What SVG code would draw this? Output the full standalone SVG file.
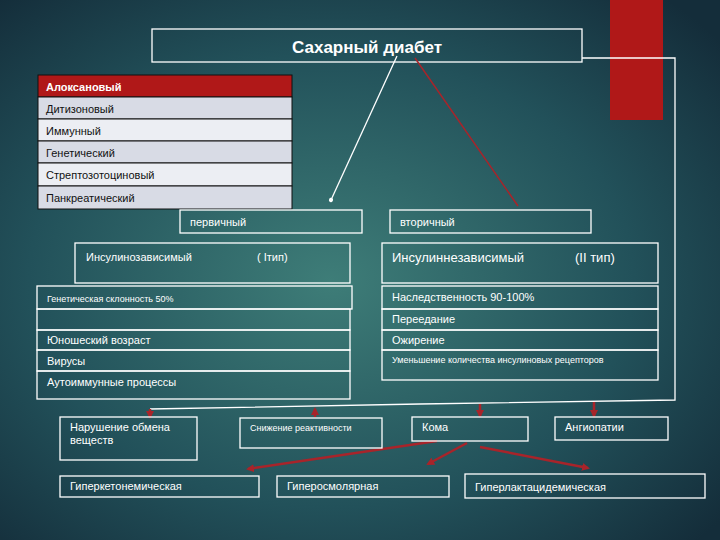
<svg xmlns="http://www.w3.org/2000/svg" width="720" height="540" viewBox="0 0 720 540">
<defs>
<radialGradient id="bg" cx="0.46" cy="0.52" r="0.7">
<stop offset="0" stop-color="#3e7d78"/><stop offset="0.6" stop-color="#22515a"/><stop offset="1" stop-color="#142d3a"/>
</radialGradient>
<marker id="wa" markerWidth="6" markerHeight="6" refX="3" refY="3" orient="auto"><circle cx="3" cy="3" r="1.6" fill="#fff"/></marker>
<marker id="ra" markerWidth="8" markerHeight="8" refX="6" refY="4" orient="auto" markerUnits="userSpaceOnUse"><path d="M0,0 L8,4 L0,8 z" fill="#a8242a"/></marker>
<style>
.b{fill:none;stroke:#fff;stroke-width:1.3}
.t{font-family:"Liberation Sans",Arial,sans-serif;font-size:11px;fill:#fff;stroke:none}
.s{font-size:9px}
.d{font-family:"Liberation Sans",Arial,sans-serif;font-size:11px;fill:#111;stroke:none}
.r{stroke:#a8242a;stroke-width:2.5;fill:none}
</style>
</defs>
<rect width="720" height="540" fill="url(#bg)"/>
<rect x="610" y="0" width="53" height="120" fill="#b01818"/>
<g id="title"><rect class="b" x="152" y="29" width="430" height="33"/><text class="t" x="367" y="53" font-weight="bold" text-anchor="middle" style="font-size:17px">Сахарный диабет</text></g>
<g id="table" stroke="#111" stroke-width="1">
<rect x="38" y="75" width="254" height="22" fill="#b01818"/><text class="t" x="46" y="91" font-weight="bold">Алоксановый</text>
<rect x="38" y="97" width="254" height="22" fill="#d8dbe5"/><text class="d" x="46" y="113">Дитизоновый</text>
<rect x="38" y="119" width="254" height="22" fill="#eceef3"/><text class="d" x="46" y="135">Иммунный</text>
<rect x="38" y="141" width="254" height="22" fill="#d8dbe5"/><text class="d" x="46" y="157">Генетический</text>
<rect x="38" y="163" width="254" height="23" fill="#eceef3"/><text class="d" x="46" y="179">Стрептозотоциновый</text>
<rect x="38" y="186" width="254" height="23" fill="#d8dbe5"/><text class="d" x="46" y="202">Панкреатический</text>
</g>
<g id="connectors">
<line x1="397" y1="56" x2="331" y2="200" stroke="#fff" stroke-width="1.3" marker-end="url(#wa)"/>
<line x1="415" y1="58" x2="518" y2="206" stroke="#a8242a" stroke-width="1.5"/>
<polyline class="b" points="582,58 675,58 675,400 420,404 150,409"/>
<line class="r" x1="150" y1="409" x2="150" y2="417" marker-end="url(#ra)"/>
<line class="r" x1="315" y1="417" x2="315" y2="409" marker-end="url(#ra)"/>
<line class="r" x1="480" y1="404" x2="480" y2="416" marker-end="url(#ra)"/>
<line class="r" x1="594" y1="402" x2="594" y2="416" marker-end="url(#ra)"/>
<line class="r" x1="437" y1="441" x2="248" y2="469" marker-end="url(#ra)"/>
<line class="r" x1="467" y1="443" x2="428" y2="464" marker-end="url(#ra)"/>
<line class="r" x1="480" y1="447" x2="588" y2="468" marker-end="url(#ra)"/>
</g>
<g id="primary"><rect class="b" x="180" y="210" width="182" height="23"/><text class="t" x="190" y="226">первичный</text></g>
<g id="secondary"><rect class="b" x="390" y="210" width="201" height="23"/><text class="t" x="400" y="226">вторичный</text></g>
<g id="left">
<rect class="b" x="75" y="243" width="275" height="40"/><text class="t" x="86" y="261">Инсулинозависимый</text><text class="t" x="257" y="261">( Iтип)</text>
<rect class="b" x="37" y="286" width="315" height="23"/><text class="t s" x="47" y="302">Генетическая склонность 50%</text>
<rect class="b" x="37" y="309" width="313" height="21"/>
<rect class="b" x="37" y="330" width="313" height="20"/><text class="t" x="47" y="344">Юношеский возраст</text>
<rect class="b" x="37" y="350" width="313" height="21"/><text class="t" x="47" y="365">Вирусы</text>
<rect class="b" x="37" y="371" width="313" height="28"/><text class="t" x="47" y="386">Аутоиммунные процессы</text>
</g>
<g id="right">
<rect class="b" x="382" y="243" width="276" height="40"/><text class="t" x="392" y="262" style="font-size:13px">Инсулиннезависимый</text><text class="t" x="575" y="262" style="font-size:13px">(II тип)</text>
<rect class="b" x="382" y="286" width="276" height="23"/><text class="t" x="392" y="301">Наследственность 90-100%</text>
<rect class="b" x="382" y="309" width="276" height="21"/><text class="t" x="392" y="323">Переедание</text>
<rect class="b" x="382" y="330" width="276" height="20"/><text class="t" x="392" y="344">Ожирение</text>
<rect class="b" x="382" y="350" width="276" height="30"/><text class="t s" x="392" y="363">Уменьшение количества инсулиновых рецепторов</text>
</g>
<g id="n1"><rect class="b" x="60" y="417" width="137" height="43"/><text class="t" x="70" y="431">Нарушение обмена</text><text class="t" x="70" y="444">веществ</text></g>
<g id="n2"><rect class="b" x="240" y="418" width="142" height="30"/><text class="t s" x="250" y="431">Снижение реактивности</text></g>
<g id="n3"><rect class="b" x="412" y="417" width="116" height="24"/><text class="t" x="422" y="431">Кома</text></g>
<g id="n4"><rect class="b" x="555" y="417" width="113" height="23"/><text class="t" x="565" y="431">Ангиопатии</text></g>
<g id="n5"><rect class="b" x="60" y="476" width="199" height="21"/><text class="t" x="70" y="490">Гиперкетонемическая</text></g>
<g id="n6"><rect class="b" x="277" y="476" width="172" height="21"/><text class="t" x="287" y="490">Гиперосмолярная</text></g>
<g id="n7"><rect class="b" x="465" y="474" width="240" height="24"/><text class="t" x="475" y="491">Гиперлактацидемическая</text></g>
</svg>
